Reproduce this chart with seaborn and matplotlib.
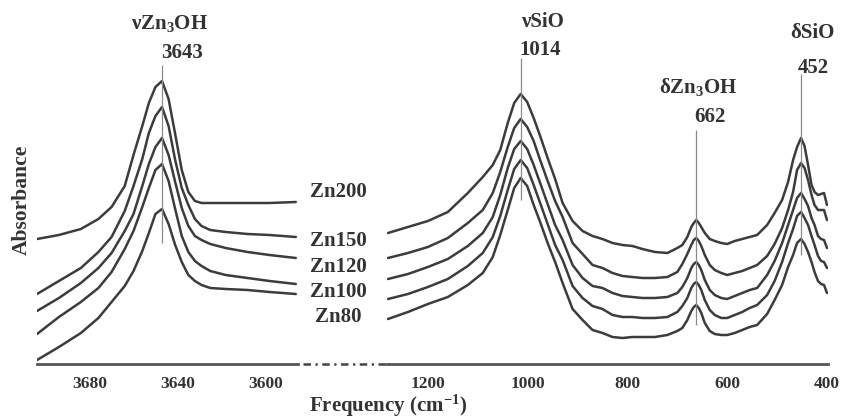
import numpy as np
import pandas as pd
import matplotlib
matplotlib.use("Agg")
import matplotlib.pyplot as plt
import matplotlib.transforms as mtransforms
from matplotlib.lines import Line2D
import seaborn as sns

# ---- data (absorbance in arbitrary, offset units) ----
samples = ["Zn200", "Zn150", "Zn120", "Zn100", "Zn80"]

# OH stretching region
wn_oh = [3700, 3690, 3680, 3672, 3666, 3660, 3656, 3652, 3649, 3646, 3643,
         3640, 3637, 3634, 3631, 3628, 3625, 3621, 3614, 3604, 3594, 3582]
oh_zn200 = [1.25, 1.29, 1.35, 1.45, 1.57, 1.78, 2.09, 2.38, 2.61, 2.77, 2.83,
            2.65, 2.30, 1.94, 1.72, 1.63, 1.61, 1.61, 1.61, 1.61, 1.61, 1.62]
oh_zn150 = [0.70, 0.83, 0.96, 1.12, 1.27, 1.53, 1.78, 2.05, 2.31, 2.48, 2.57,
            2.38, 2.04, 1.76, 1.59, 1.45, 1.38, 1.34, 1.32, 1.30, 1.29, 1.27]
oh_zn120 = [0.53, 0.66, 0.81, 0.96, 1.11, 1.33, 1.50, 1.78, 2.00, 2.17, 2.26,
            2.09, 1.82, 1.56, 1.38, 1.28, 1.24, 1.20, 1.16, 1.12, 1.09, 1.06]
oh_zn100 = [0.30, 0.47, 0.62, 0.76, 0.92, 1.15, 1.33, 1.57, 1.76, 1.94, 2.00,
            1.83, 1.55, 1.28, 1.12, 1.03, 0.98, 0.93, 0.89, 0.86, 0.83, 0.80]
oh_zn80 = [0.04, 0.17, 0.31, 0.46, 0.62, 0.78, 0.93, 1.13, 1.31, 1.50, 1.55,
           1.40, 1.19, 1.02, 0.89, 0.83, 0.79, 0.76, 0.75, 0.74, 0.72, 0.70]

# lattice region
wn_lat = [1280, 1240, 1200, 1160, 1120, 1090, 1070, 1055, 1040, 1027,
          1014, 1001, 988, 975, 960, 945, 930, 910, 890, 870,
          850, 830, 810, 790, 770, 745, 720, 700, 690, 680,
          672, 667, 662, 657, 652, 645, 635, 625, 612, 600,
          585, 570, 555, 540, 520, 505, 490, 478, 468, 460,
          452, 445, 438, 431, 425, 418, 412, 406, 400]
lat_zn200 = [1.31, 1.37, 1.43, 1.52, 1.71, 1.87, 1.99, 2.14, 2.41, 2.61,
             2.70, 2.62, 2.46, 2.28, 2.06, 1.85, 1.61, 1.43, 1.33, 1.28,
             1.25, 1.21, 1.19, 1.18, 1.15, 1.12, 1.11, 1.16, 1.19, 1.27,
             1.37, 1.41, 1.44, 1.41, 1.37, 1.31, 1.25, 1.23, 1.21, 1.20,
             1.23, 1.25, 1.27, 1.29, 1.39, 1.51, 1.64, 1.82, 2.04, 2.17,
             2.26, 2.18, 1.99, 1.79, 1.72, 1.69, 1.70, 1.71, 1.59]
lat_zn150 = [1.06, 1.11, 1.17, 1.26, 1.41, 1.54, 1.71, 1.92, 2.17, 2.36,
             2.45, 2.37, 2.23, 2.04, 1.83, 1.63, 1.47, 1.21, 1.10, 0.99,
             0.96, 0.91, 0.88, 0.87, 0.86, 0.86, 0.87, 0.92, 1.00, 1.10,
             1.19, 1.24, 1.26, 1.23, 1.18, 1.09, 0.99, 0.94, 0.91, 0.89,
             0.91, 0.93, 0.96, 0.99, 1.08, 1.20, 1.36, 1.54, 1.72, 1.94,
             2.01, 1.96, 1.84, 1.69, 1.59, 1.54, 1.54, 1.54, 1.44]
lat_zn120 = [0.85, 0.90, 0.97, 1.05, 1.18, 1.31, 1.47, 1.69, 1.96, 2.15,
             2.23, 2.15, 1.99, 1.81, 1.60, 1.39, 1.24, 0.99, 0.86, 0.78,
             0.76, 0.71, 0.68, 0.67, 0.66, 0.66, 0.67, 0.71, 0.77, 0.86,
             0.96, 1.00, 1.02, 0.99, 0.94, 0.84, 0.74, 0.69, 0.66, 0.65,
             0.68, 0.71, 0.74, 0.76, 0.89, 1.03, 1.21, 1.39, 1.54, 1.66,
             1.71, 1.65, 1.58, 1.46, 1.39, 1.28, 1.25, 1.24, 1.16]
lat_zn100 = [0.65, 0.70, 0.77, 0.85, 0.98, 1.11, 1.27, 1.48, 1.74, 1.95,
             2.04, 1.96, 1.79, 1.61, 1.40, 1.19, 1.04, 0.78, 0.66, 0.58,
             0.55, 0.49, 0.47, 0.47, 0.46, 0.46, 0.47, 0.52, 0.58, 0.66,
             0.76, 0.80, 0.82, 0.79, 0.74, 0.64, 0.54, 0.49, 0.46, 0.46,
             0.49, 0.52, 0.56, 0.59, 0.69, 0.83, 1.02, 1.21, 1.35, 1.48,
             1.52, 1.46, 1.39, 1.28, 1.19, 1.08, 1.03, 1.02, 0.96]
lat_zn80 = [0.45, 0.52, 0.60, 0.67, 0.79, 0.91, 1.07, 1.29, 1.54, 1.76,
            1.86, 1.78, 1.59, 1.42, 1.21, 1.02, 0.81, 0.55, 0.44, 0.34,
            0.31, 0.27, 0.26, 0.27, 0.27, 0.27, 0.29, 0.33, 0.36, 0.44,
            0.53, 0.57, 0.59, 0.56, 0.51, 0.41, 0.33, 0.30, 0.29, 0.29,
            0.31, 0.34, 0.37, 0.39, 0.50, 0.64, 0.79, 0.97, 1.09, 1.21,
            1.25, 1.20, 1.12, 1.02, 0.92, 0.83, 0.80, 0.79, 0.71]

oh_curves = [oh_zn200, oh_zn150, oh_zn120, oh_zn100, oh_zn80]
lat_curves = [lat_zn200, lat_zn150, lat_zn120, lat_zn100, lat_zn80]

# peak markers: (position, line bottom, line top)
oh_peaks = [(3643, 1.21, 2.99)]
lat_peaks = [(1014, 1.64, 3.06), (662, 0.39, 2.34), (452, 1.09, 2.90)]


def to_long(wn, curves):
    frames = [pd.DataFrame({"wn": wn, "abs": c, "sample": s})
              for s, c in zip(samples, curves)]
    return pd.concat(frames, ignore_index=True)


df_oh = to_long(wn_oh, oh_curves)
df_lat = to_long(wn_lat, lat_curves)

# ---- style ----
sns.set_style("white")
plt.rcParams['font.family'] = ['Liberation Serif', 'DejaVu Serif']
plt.rcParams['font.weight'] = 'bold'
plt.rcParams['mathtext.fontset'] = 'custom'
plt.rcParams['mathtext.rm'] = 'Liberation Serif:bold'
plt.rcParams['mathtext.bf'] = 'Liberation Serif:bold'
plt.rcParams['mathtext.it'] = 'Liberation Serif:italic:bold'

line_col = '#3c3c3c'
axis_col = '#555555'
text_col = '#333333'
W, H = 843, 418

fig = plt.figure(figsize=(W / 100, H / 100), dpi=100)
ax1 = fig.add_axes([37 / W, 54 / H, 261 / W, 364 / H])
ax2 = fig.add_axes([387 / W, 54 / H, 441 / W, 364 / H])

line_kw = dict(x="wn", y="abs", hue="sample", palette=[line_col] * 5,
               estimator=None, sort=False, legend=False, linewidth=1.8)
sns.lineplot(data=df_oh, ax=ax1, **line_kw)
sns.lineplot(data=df_lat, ax=ax2, **line_kw)
for ax in (ax1, ax2):
    for ln in ax.get_lines():
        ln.set_solid_joinstyle('round')

ax1.set_xlim(3700, 3581)
ax2.set_xlim(1282, 398)
ax1.set_xticks([3680, 3640, 3600])
ax1.set_xticks([3660, 3620], minor=True)
ax2.set_xticks([1200, 1000, 800, 600, 400])
ax2.set_xticks([1100, 900, 700, 500], minor=True)

for ax in (ax1, ax2):
    ax.set_ylim(0, 3.64)
    ax.set_yticks([])
    ax.set_xlabel('')
    ax.set_ylabel('')
    ax.patch.set_alpha(0)
    for side in ('top', 'left', 'right'):
        ax.spines[side].set_visible(False)
    ax.spines['bottom'].set_linewidth(2)
    ax.spines['bottom'].set_color(axis_col)
    ax.tick_params(axis='x', which='both', direction='out', color=axis_col,
                   width=1.3, labelsize=12.5, labelcolor=text_col, pad=5)
    ax.tick_params(axis='x', which='major', length=3.5)
    ax.tick_params(axis='x', which='minor', length=2.5)

# left-panel tick labels sit a little to the right of their ticks
shift = mtransforms.ScaledTranslation(0.09, 0, fig.dpi_scale_trans)
for lab in ax1.get_xticklabels():
    lab.set_transform(lab.get_transform() + shift)

# peak guide lines
for ax, peaks in ((ax1, oh_peaks), (ax2, lat_peaks)):
    for pos, lo, hi in peaks:
        ax.vlines(pos, lo, hi, color='#8a8a8a', linewidth=0.9)

txt = dict(fontsize=15, fontweight='bold', color=text_col, ha='center', va='center')
ax1.text(3639.4, 3.41, r'νZn$_3$OH', clip_on=False, **txt)
ax1.text(3633.9, 3.11, '3643', clip_on=False, **txt)
ax2.text(971, 3.42, 'νSiO', clip_on=False, **txt)
ax2.text(975, 3.14, '1014', clip_on=False, **txt)
ax2.text(658.6, 2.77, r'δZn$_3$OH', clip_on=False, **txt)
ax2.text(634.6, 2.47, '662', clip_on=False, **txt)
ax2.text(430, 3.31, 'δSiO', clip_on=False, **txt)
ax2.text(428, 2.96, '452', clip_on=False, **txt)

# sample labels between the panels
label_y = [192, 241, 267, 292, 317]
for s, py in zip(samples, label_y):
    fig.text(338 / W, 1 - py / H, s, **txt)

# broken axis dash-dot segment
fig.add_artist(Line2D([303 / W, 387 / W], [54 / H, 54 / H], transform=fig.transFigure,
                      color='#444444', linewidth=1.8, dash_capstyle='butt',
                      linestyle=(0, (3.0, 1.8, 0.9, 1.8)), zorder=5))

fig.text(22 / W, 1 - 200 / H, 'Absorbance', rotation=90, fontsize=15.5,
         fontweight='bold', color=text_col, ha='center', va='center')
fig.text(388 / W, 1 - 412 / H, r'Frequency (cm$^{-1}$)', fontsize=15,
         fontweight='bold', color=text_col, ha='center', va='baseline')

fig.savefig('out.png', dpi=100, facecolor='white')
